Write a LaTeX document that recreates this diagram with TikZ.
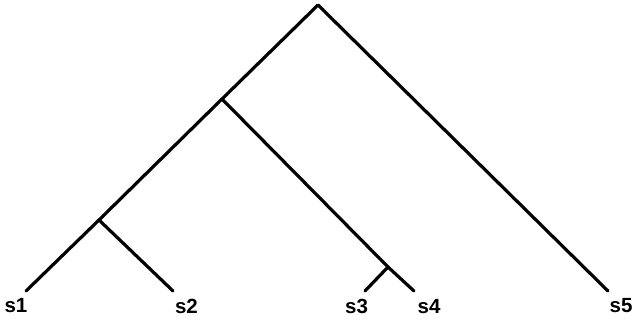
\documentclass[tikz,border=0pt]{standalone}
\usepackage{fontspec}
\setmainfont{Liberation Sans}
\begin{document}
\begin{tikzpicture}[x=1pt,y=-1pt,
  branch/.style={line width=3.2pt,line cap=round,line join=round},
  leaflabel/.style={inner sep=0pt,font=\fontsize{20.5}{20.5}\selectfont\bfseries}]
\useasboundingbox (0,0) rectangle (640,321);
\coordinate (root) at (318,5);
\coordinate (B) at (222,99);
\coordinate (A) at (99,220);
\coordinate (C) at (388,267);
\coordinate (e1) at (26,291);
\coordinate (e2) at (173,291);
\coordinate (e3) at (365,291);
\coordinate (e4) at (414,291);
\coordinate (e5) at (608,291);
\draw[branch] (e1) -- (A) -- (B) -- (root) -- (e5);
\draw[branch] (A) -- (e2);
\draw[branch] (B) -- (C) -- (e4);
\draw[branch] (C) -- (e3);
\node[leaflabel] (s1) at (16,305.5) {s1};
\node[leaflabel] (s2) at (186.5,306.5) {s2};
\node[leaflabel] (s3) at (356.5,306.5) {s3};
\node[leaflabel] (s4) at (429,306.5) {s4};
\node[leaflabel] (s5) at (621,306) {s5};
\end{tikzpicture}
\end{document}
